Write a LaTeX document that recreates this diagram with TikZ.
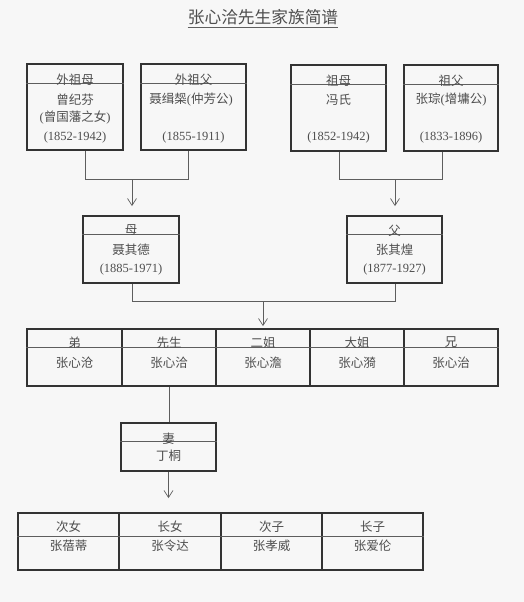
\documentclass[tikz,border=0pt]{standalone}
\usepackage{fontspec}
\setmainfont{Liberation Serif}
\newfontfamily\cjk{Noto Sans CJK SC}
\usetikzlibrary{calc,arrows.meta}
\definecolor{ink}{HTML}{4E4E4E}
\definecolor{frame}{HTML}{333333}
\definecolor{wire}{HTML}{5E5E5E}
\definecolor{paper}{HTML}{F7F7F7}
\newcommand\C[1]{{\cjk #1}}
\tikzset{
  pbox/.style={draw=frame, line width=1.8pt, inner sep=0pt},
  hline/.style={draw=wire, line width=0.7pt},
  txt/.style={text=ink, inner sep=0pt, font=\fontsize{12.5}{14}\selectfont},
  conn/.style={draw=wire, line width=0.7pt},
  arr/.style={conn, -{Straight Barb[length=7pt,width=9pt]}},
}
\begin{document}
\begin{tikzpicture}[x=1pt,y=-1pt]
\fill[paper] (0,0) rectangle (524,602);
\useasboundingbox (0,0) rectangle (524,602);

% title
\node[txt, font=\fontsize{16.7}{19}\selectfont] (title) at (263,17) {\C{张心洽先生家族简谱}};
\draw[conn] ($(title.west)+(0,10)$) -- ($(title.east)+(0,10)$);

% grandparents
\node[pbox, minimum width=96pt, minimum height=86pt] (b1) at (75,107) {};
\node[pbox, minimum width=105pt, minimum height=86pt] (b2) at (193.5,107) {};
\node[pbox, minimum width=95pt, minimum height=86pt] (b3) at (338.5,108) {};
\node[pbox, minimum width=94pt, minimum height=86pt] (b4) at (451,108) {};
\foreach \b in {b1,b2,b3,b4}
  \draw[hline] ($(\b.north west)+(0,20)$) -- ($(\b.north east)+(0,20)$);

\node[txt] (b1h) at (75,79.5) {\C{外祖母}};
\node[txt] (b1n) at (75,100) {\C{曾纪芬}};
\node[txt] (b1x) at (75,118) {(\C{曾国藩之女})};
\node[txt] (b1d) at (75,137) {(1852-1942)};

\node[txt] (b2h) at (193.5,79.5) {\C{外祖父}};
\node[txt] (b2n) at (191,100) {\C{聂缉椝}(\C{仲芳公})};
\node[txt] (b2d) at (193.5,137) {(1855-1911)};

\node[txt] (b3h) at (338.5,80.5) {\C{祖母}};
\node[txt] (b3n) at (338.5,100) {\C{冯氏}};
\node[txt] (b3d) at (338.5,137) {(1852-1942)};

\node[txt] (b4h) at (451,80.5) {\C{祖父}};
\node[txt] (b4n) at (451,100) {\C{张琮}(\C{增墉公})};
\node[txt] (b4d) at (451,137) {(1833-1896)};

% parents
\node[pbox, minimum width=96pt, minimum height=67pt] (m) at (131,249.5) {};
\node[pbox, minimum width=95pt, minimum height=67pt] (f) at (394.5,249.5) {};
\foreach \b in {m,f}
  \draw[hline] ($(\b.north west)+(0,19)$) -- ($(\b.north east)+(0,19)$);
\node[txt] (mh) at (131,230.5) {\C{母}};
\node[txt] (mn) at (131,250) {\C{聂其德}};
\node[txt] (md) at (131,269) {(1885-1971)};
\node[txt] (fh) at (394.5,230.5) {\C{父}};
\node[txt] (fn) at (394.5,250) {\C{张其煌}};
\node[txt] (fd) at (394.5,269) {(1877-1927)};

% connectors grandparents -> parents
\coordinate (j1) at (85,179);
\coordinate (j2) at (188,179);
\coordinate (k1) at (132,179);
\coordinate (j3) at (339,179);
\coordinate (j4) at (442,179);
\coordinate (k2) at (395,179);
\draw[conn] (b1.south -| j1) -- (j1) -- (j2) -- (b2.south -| j2);
\draw[conn] (b3.south -| j3) -- (j3) -- (j4) -- (b4.south -| j4);
\draw[arr, shorten >=9pt] (k1) -- (m.north -| k1);
\draw[arr, shorten >=9pt] (k2) -- (f.north -| k2);

% siblings row
\node[pbox, minimum width=95pt, minimum height=57pt] (r1) at (74.5,357.5) {};
\node[pbox, minimum width=94pt, minimum height=57pt] (r2) at (169,357.5) {};
\node[pbox, minimum width=94pt, minimum height=57pt] (r3) at (263,357.5) {};
\node[pbox, minimum width=94pt, minimum height=57pt] (r4) at (357,357.5) {};
\node[pbox, minimum width=94pt, minimum height=57pt] (r5) at (451,357.5) {};
\draw[hline] ($(r1.north west)+(0,19)$) -- ($(r5.north east)+(0,19)$);
\node[txt] (r1h) at (74.5,342.5) {\C{弟}};
\node[txt] (r1n) at (74.5,363) {\C{张心沧}};
\node[txt] (r2h) at (169,342.5) {\C{先生}};
\node[txt] (r2n) at (169,363) {\C{张心洽}};
\node[txt] (r3h) at (263,342.5) {\C{二姐}};
\node[txt] (r3n) at (263,363) {\C{张心澹}};
\node[txt] (r4h) at (357,342.5) {\C{大姐}};
\node[txt] (r4n) at (357,363) {\C{张心漪}};
\node[txt] (r5h) at (451,342.5) {\C{兄}};
\node[txt] (r5n) at (451,363) {\C{张心治}};

% parents -> siblings
\coordinate (p1) at (132,301);
\coordinate (p2) at (395,301);
\coordinate (q) at (263,301);
\draw[conn] (m.south -| p1) -- (p1) -- (p2) -- (f.south -| p2);
\draw[arr, shorten >=2pt] (q) -- (r3.north -| q);

% wife
\node[pbox, minimum width=95pt, minimum height=48pt] (w) at (168.5,447) {};
\draw[hline] ($(w.north west)+(0,19)$) -- ($(w.north east)+(0,19)$);
\node[txt] (wh) at (168.5,438.5) {\C{妻}};
\node[txt] (wn) at (168.5,456) {\C{丁桐}};
\draw[conn] (r2.south) -- (r2.south |- w.north);

% children
\node[pbox, minimum width=101pt, minimum height=57pt] (c1) at (68.5,541.5) {};
\node[pbox, minimum width=102pt, minimum height=57pt] (c2) at (170,541.5) {};
\node[pbox, minimum width=101pt, minimum height=57pt] (c3) at (271.5,541.5) {};
\node[pbox, minimum width=101pt, minimum height=57pt] (c4) at (372.5,541.5) {};
\draw[hline] ($(c1.north west)+(0,24)$) -- ($(c4.north east)+(0,24)$);
\node[txt] (c1h) at (68.5,527) {\C{次女}};
\node[txt] (c1n) at (68.5,546) {\C{张蓓蒂}};
\node[txt] (c2h) at (170,527) {\C{长女}};
\node[txt] (c2n) at (170,546) {\C{张令达}};
\node[txt] (c3h) at (271.5,527) {\C{次子}};
\node[txt] (c3n) at (271.5,546) {\C{张孝威}};
\node[txt] (c4h) at (372.5,527) {\C{长子}};
\node[txt] (c4n) at (372.5,546) {\C{张爱伦}};
\draw[arr, shorten >=14pt] (w.south) -- (w.south |- c2.north);
\end{tikzpicture}
\end{document}
